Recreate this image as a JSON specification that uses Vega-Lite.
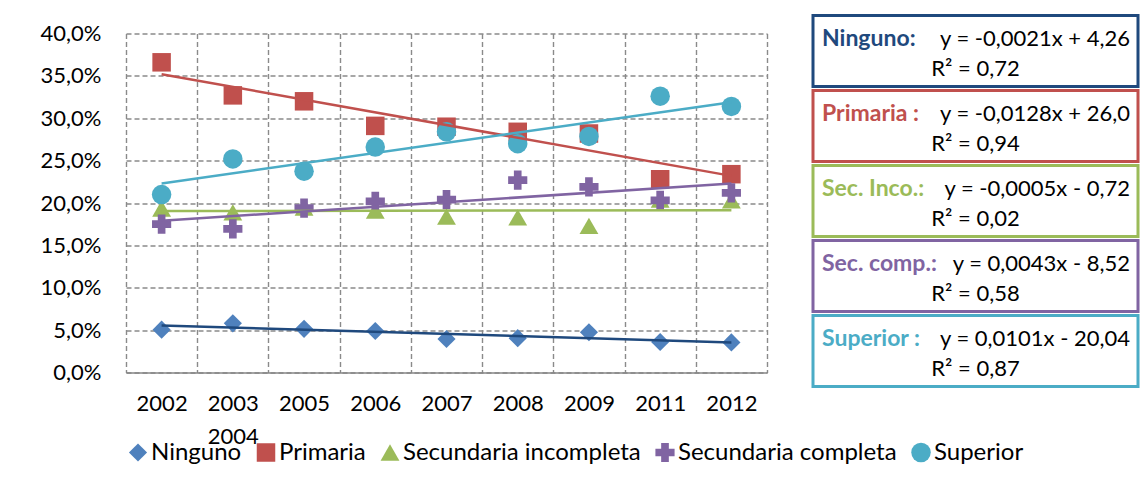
{
  "$schema": "https://vega.github.io/schema/vega-lite/v6.json",
  "background": "white",
  "padding": {"left": 40, "top": 13.5, "right": 0, "bottom": 0},
  "config": {"font": "Lato", "view": {"stroke": null}},
  "bounds": "flush",
  "spacing": 46,
  "resolve": {"scale": {"color": "independent", "shape": "independent", "size": "independent", "stroke": "independent", "fill": "independent"}},
  "datasets": {
    "puntos": [
      {"serie": "Ninguno", "anio": "2002", "valor": 5.05},
      {"serie": "Ninguno", "anio": "2003 2004", "valor": 5.8},
      {"serie": "Ninguno", "anio": "2005", "valor": 5.15},
      {"serie": "Ninguno", "anio": "2006", "valor": 4.9},
      {"serie": "Ninguno", "anio": "2007", "valor": 3.95},
      {"serie": "Ninguno", "anio": "2008", "valor": 4.05},
      {"serie": "Ninguno", "anio": "2009", "valor": 4.75},
      {"serie": "Ninguno", "anio": "2011", "valor": 3.6},
      {"serie": "Ninguno", "anio": "2012", "valor": 3.55},
      {"serie": "Primaria", "anio": "2002", "valor": 36.6},
      {"serie": "Primaria", "anio": "2003 2004", "valor": 32.7},
      {"serie": "Primaria", "anio": "2005", "valor": 32.0},
      {"serie": "Primaria", "anio": "2006", "valor": 29.1},
      {"serie": "Primaria", "anio": "2007", "valor": 29.0},
      {"serie": "Primaria", "anio": "2008", "valor": 28.4},
      {"serie": "Primaria", "anio": "2009", "valor": 28.2},
      {"serie": "Primaria", "anio": "2011", "valor": 22.8},
      {"serie": "Primaria", "anio": "2012", "valor": 23.4},
      {"serie": "Secundaria incompleta", "anio": "2002", "valor": 19.35},
      {"serie": "Secundaria incompleta", "anio": "2003 2004", "valor": 18.9},
      {"serie": "Secundaria incompleta", "anio": "2005", "valor": 19.45},
      {"serie": "Secundaria incompleta", "anio": "2006", "valor": 19.1},
      {"serie": "Secundaria incompleta", "anio": "2007", "valor": 18.4},
      {"serie": "Secundaria incompleta", "anio": "2008", "valor": 18.3},
      {"serie": "Secundaria incompleta", "anio": "2009", "valor": 17.3},
      {"serie": "Secundaria incompleta", "anio": "2011", "valor": 20.4},
      {"serie": "Secundaria incompleta", "anio": "2012", "valor": 20.3},
      {"serie": "Secundaria completa", "anio": "2002", "valor": 17.5},
      {"serie": "Secundaria completa", "anio": "2003 2004", "valor": 16.95},
      {"serie": "Secundaria completa", "anio": "2005", "valor": 19.4},
      {"serie": "Secundaria completa", "anio": "2006", "valor": 20.2},
      {"serie": "Secundaria completa", "anio": "2007", "valor": 20.4},
      {"serie": "Secundaria completa", "anio": "2008", "valor": 22.7},
      {"serie": "Secundaria completa", "anio": "2009", "valor": 21.9},
      {"serie": "Secundaria completa", "anio": "2011", "valor": 20.3},
      {"serie": "Secundaria completa", "anio": "2012", "valor": 21.2},
      {"serie": "Superior", "anio": "2002", "valor": 21.0},
      {"serie": "Superior", "anio": "2003 2004", "valor": 25.2},
      {"serie": "Superior", "anio": "2005", "valor": 23.75},
      {"serie": "Superior", "anio": "2006", "valor": 26.6},
      {"serie": "Superior", "anio": "2007", "valor": 28.4},
      {"serie": "Superior", "anio": "2008", "valor": 27.0},
      {"serie": "Superior", "anio": "2009", "valor": 27.85},
      {"serie": "Superior", "anio": "2011", "valor": 32.6},
      {"serie": "Superior", "anio": "2012", "valor": 31.4}
    ],
    "tendencia": [
      {"serie": "Ninguno", "anio": "2002", "valor": 5.55},
      {"serie": "Ninguno", "anio": "2012", "valor": 3.55},
      {"serie": "Primaria", "anio": "2002", "valor": 35.2},
      {"serie": "Primaria", "anio": "2012", "valor": 23.2},
      {"serie": "Secundaria incompleta", "anio": "2002", "valor": 19.05},
      {"serie": "Secundaria incompleta", "anio": "2012", "valor": 19.15},
      {"serie": "Secundaria completa", "anio": "2002", "valor": 17.9},
      {"serie": "Secundaria completa", "anio": "2012", "valor": 22.3},
      {"serie": "Superior", "anio": "2002", "valor": 22.3},
      {"serie": "Superior", "anio": "2012", "valor": 31.9}
    ],
    "cajas": [
      {"serie": "Ninguno", "etiqueta": "Ninguno:", "ecuacion": "y = -0,0021x + 4,26", "r2": "R² = 0,72"},
      {"serie": "Primaria", "etiqueta": "Primaria :", "ecuacion": "y = -0,0128x + 26,0", "r2": "R² = 0,94"},
      {"serie": "Secundaria incompleta", "etiqueta": "Sec. Inco.:", "ecuacion": "y = -0,0005x - 0,72", "r2": "R² = 0,02"},
      {"serie": "Secundaria completa", "etiqueta": "Sec. comp.:", "ecuacion": "y = 0,0043x - 8,52", "r2": "R² = 0,58"},
      {"serie": "Superior", "etiqueta": "Superior :", "ecuacion": "y = 0,0101x - 20,04", "r2": "R² = 0,87"}
    ]
  },
  "hconcat": [
    {
      "width": 641,
      "height": 339,
      "layer": [
        {
          "data": {"name": "puntos"},
          "mark": {"type": "point", "filled": true, "opacity": 1},
          "encoding": {
            "x": {
              "field": "anio", "type": "nominal",
              "scale": {"domain": ["2002", "2003 2004", "2005", "2006", "2007", "2008", "2009", "2011", "2012"], "paddingInner": 0, "paddingOuter": 0},
              "axis": {
                "title": null, "labelAngle": 0, "labelFontSize": 22, "labelColor": "black",
                "labelPadding": 21, "labelExpr": "split(datum.label, ' ')", "labelLineHeight": 33,
                "labelBaseline": "top", "labelOverlap": false, "ticks": false, "tickSize": 0,
                "domainColor": "#868686", "domainWidth": 1.5,
                "grid": true, "tickBand": "extent", "gridDash": [5, 3], "gridColor": "#8a8a8a", "gridWidth": 1.4
              }
            },
            "y": {
              "field": "valor", "type": "quantitative",
              "scale": {"domain": [0, 40], "nice": false},
              "axis": {
                "title": null, "values": [0, 5, 10, 15, 20, 25, 30, 35, 40],
                "labelExpr": "replace(format(datum.value, '.1f'), '.', ',') + '%'",
                "domain": false, "ticks": false, "tickSize": 0, "labelPadding": 25,
                "labelFontSize": 22, "labelColor": "black", "labelOverlap": false, "labelFlush": false,
                "grid": true, "gridDash": [5, 3], "gridColor": "#8a8a8a", "gridWidth": 1.4
              }
            },
            "color": {
              "field": "serie", "type": "nominal",
              "scale": {"domain": ["Ninguno", "Primaria", "Secundaria incompleta", "Secundaria completa", "Superior"], "range": ["#4F81BD", "#C0504D", "#9BBB59", "#8064A2", "#4BACC6"]},
              "legend": {"orient": "bottom", "direction": "horizontal", "title": null, "labelFontSize": 24, "labelColor": "black", "symbolSize": 270, "columnPadding": 12, "labelOffset": 1, "offset": -7, "labelLimit": 400, "symbolStrokeWidth": 0}
            },
            "shape": {
              "field": "serie", "type": "nominal",
              "scale": {"domain": ["Ninguno", "Primaria", "Secundaria incompleta", "Secundaria completa", "Superior"], "range": ["diamond", "square", "triangle-up", "cross", "circle"]},
              "legend": {"orient": "bottom", "direction": "horizontal", "title": null, "labelFontSize": 24, "labelColor": "black", "symbolSize": 270, "columnPadding": 12, "labelOffset": 1, "offset": -7, "labelLimit": 400, "symbolStrokeWidth": 0}
            },
            "size": {
              "field": "serie", "type": "nominal",
              "scale": {"domain": ["Ninguno", "Primaria", "Secundaria incompleta", "Secundaria completa", "Superior"], "range": [330, 380, 360, 300, 290]},
              "legend": null
            }
          }
        },
        {
          "data": {"name": "tendencia"},
          "mark": {"type": "line", "strokeWidth": 2.5},
          "encoding": {
            "x": {"field": "anio", "type": "nominal"},
            "y": {"field": "valor", "type": "quantitative"},
            "stroke": {
              "field": "serie", "type": "nominal",
              "scale": {"domain": ["Ninguno", "Primaria", "Secundaria incompleta", "Secundaria completa", "Superior"], "range": ["#1F497D", "#C0504D", "#9BBB59", "#8064A2", "#4BACC6"]},
              "legend": null
            }
          }
        }
      ]
    },
    {
      "width": 325,
      "height": 339,
      "data": {"name": "cajas"},
      "layer": [
        {
          "mark": {"type": "rect", "fill": "white", "strokeWidth": 3},
          "encoding": {
            "y": {"field": "serie", "type": "nominal", "sort": null, "axis": null, "scale": {"range": [-18, 353], "paddingInner": 0.055, "paddingOuter": 0}},
            "stroke": {
              "field": "serie", "type": "nominal",
              "scale": {"domain": ["Ninguno", "Primaria", "Secundaria incompleta", "Secundaria completa", "Superior"], "range": ["#1F497D", "#C0504D", "#9BBB59", "#8064A2", "#4BACC6"]},
              "legend": null
            }
          }
        },
        {
          "mark": {"type": "text", "align": "left", "baseline": "middle", "fontWeight": "bold", "fontSize": 23, "dx": -153.5},
          "encoding": {
            "y": {"field": "serie", "type": "nominal", "sort": null, "bandPosition": 0.33},
            "text": {"field": "etiqueta"},
            "fill": {
              "field": "serie", "type": "nominal",
              "scale": {"domain": ["Ninguno", "Primaria", "Secundaria incompleta", "Secundaria completa", "Superior"], "range": ["#1F497D", "#C0504D", "#9BBB59", "#8064A2", "#4BACC6"]},
              "legend": null
            }
          }
        },
        {
          "mark": {"type": "text", "align": "right", "baseline": "middle", "fontSize": 22, "dx": 154.5, "color": "black"},
          "encoding": {
            "y": {"field": "serie", "type": "nominal", "sort": null, "bandPosition": 0.33},
            "text": {"field": "ecuacion"}
          }
        },
        {
          "mark": {"type": "text", "align": "center", "baseline": "middle", "fontSize": 22, "color": "black"},
          "encoding": {
            "y": {"field": "serie", "type": "nominal", "sort": null, "bandPosition": 0.75},
            "text": {"field": "r2"}
          }
        }
      ]
    }
  ]
}
